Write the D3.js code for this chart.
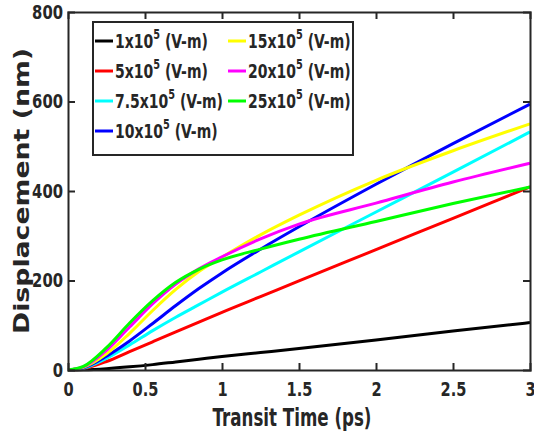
<!DOCTYPE html>
<html>
<head>
<meta charset="utf-8">
<script src="https://cdn.jsdelivr.net/npm/d3@7"></script>
<style>
  body { margin: 0; background: #fff; }
  text { font-family: "DejaVu Sans", sans-serif; font-weight: bold; fill: #262626; }
</style>
</head>
<body>
<div id="chart"></div>
<script>
// chart data
const times = [0, 0.1, 0.25, 0.4, 0.55, 0.7, 0.85, 1, 1.25, 1.5, 2, 2.5, 3];
const field1 = [0, 0.5, 3, 7, 12, 18, 24, 30, 39, 48, 67, 87, 106];
const field5 = [0, 3, 19, 41, 63, 85, 107, 129, 164, 199, 269, 339, 409];
const field75 = [0, 4, 26, 56, 88, 118, 146, 174, 219, 264, 353, 442, 532];
const field10 = [0, 5, 31, 65, 104, 144, 182, 217, 270, 320, 415, 506, 594];
const field15 = [0, 6, 36, 82, 133, 180, 220, 252, 302, 346, 424, 490, 550];
const field20 = [0, 7, 44, 96, 148, 192, 226, 253, 293, 326, 373, 420, 462];
const field25 = [0, 8, 50, 105, 155, 196, 225, 246, 270, 292, 332, 372, 409];

const seriesNames = ["1", "5", "7.5", "10", "15", "20", "25"];
const seriesColors = ["#000000", "#ff0000", "#00ffff", "#0000ff", "#ffff00", "#ff00ff", "#00ff00"];
const seriesValues = [field1, field5, field75, field10, field15, field20, field25];

const xTicks = [0, 0.5, 1, 1.5, 2, 2.5, 3];
const yTicks = [0, 200, 400, 600, 800];

// svg size and plot box
const width = 534;
const height = 440;
const margin = { left: 68, right: 4, top: 12, bottom: 70 };
const axisColor = "#262626";

const svg = d3.select("#chart")
    .append("svg")
    .attr("width", width)
    .attr("height", height);

const x = d3.scaleLinear().domain([0, 3]).range([margin.left, width - margin.right]);
const y = d3.scaleLinear().domain([0, 800]).range([height - margin.bottom, margin.top]);

// squeeze text to a measured width
function fitWidth(sel, ratio) {
    sel.each(function () {
        const w = this.getComputedTextLength();
        d3.select(this)
            .attr("textLength", w * ratio)
            .attr("lengthAdjust", "spacingAndGlyphs");
    });
}

// lines
const line = d3.line()
    .x((d, i) => x(times[i]))
    .y(d => y(d))
    .curve(d3.curveMonotoneX);

svg.append("g")
    .selectAll("path")
    .data(seriesValues)
    .enter().append("path")
    .attr("d", d => line(d))
    .attr("fill", "none")
    .attr("stroke", (d, i) => seriesColors[i])
    .attr("stroke-width", 3);

// axes, ticks pointing inward on all four sides
const tickLen = 7;
const bottomAxis = svg.append("g")
    .attr("transform", `translate(0,${y(0)})`)
    .call(d3.axisBottom(x).tickValues(xTicks).tickSize(-tickLen).tickPadding(12)
        .tickFormat(d3.format("")));
const topAxis = svg.append("g")
    .attr("transform", `translate(0,${y(800)})`)
    .call(d3.axisTop(x).tickValues(xTicks).tickSize(-tickLen).tickFormat(""));
const leftAxis = svg.append("g")
    .attr("transform", `translate(${x(0)},0)`)
    .call(d3.axisLeft(y).tickValues(yTicks).tickSize(-tickLen).tickPadding(5));
const rightAxis = svg.append("g")
    .attr("transform", `translate(${x(3)},0)`)
    .call(d3.axisRight(y).tickValues(yTicks).tickSize(-tickLen).tickFormat(""));

[bottomAxis, topAxis, leftAxis, rightAxis].forEach(g => {
    g.select(".domain").attr("stroke", axisColor).attr("stroke-width", 2);
    g.selectAll(".tick line").attr("stroke", axisColor).attr("stroke-width", 2);
    g.selectAll(".tick text")
        .attr("fill", axisColor)
        .style("font-size", "20px")
        .style("font-family", "'DejaVu Sans', sans-serif")
        .style("font-weight", "bold");
});
bottomAxis.selectAll(".tick line").filter(d => d === 0 || d === 3).remove();
topAxis.selectAll(".tick line").filter(d => d === 0 || d === 3).remove();
leftAxis.selectAll(".tick line").filter(d => d === 0 || d === 800).remove();
rightAxis.selectAll(".tick line").filter(d => d === 0 || d === 800).remove();

fitWidth(bottomAxis.selectAll(".tick text"), 0.73);
fitWidth(leftAxis.selectAll(".tick text"), 0.74);

// axis titles
svg.append("text")
    .attr("x", 292)
    .attr("y", 426)
    .attr("text-anchor", "middle")
    .attr("textLength", 159)
    .attr("lengthAdjust", "spacingAndGlyphs")
    .style("font-size", "24px")
    .text("Transit Time (ps)");

svg.append("text")
    .attr("transform", `translate(29,${(y(0) + y(800)) / 2}) rotate(-90)`)
    .attr("text-anchor", "middle")
    .attr("textLength", 286)
    .attr("lengthAdjust", "spacingAndGlyphs")
    .style("font-size", "21px")
    .text("Displacement (nm)");

// legend: two columns
const legend = svg.append("g");
legend.append("rect")
    .attr("x", 93)
    .attr("y", 22)
    .attr("width", 260)
    .attr("height", 133)
    .attr("fill", "#fff")
    .attr("stroke", axisColor)
    .attr("stroke-width", 2);

const rowY = [41, 71, 101, 131];
const colX = [95, 228];
const textRatio = 0.7;

seriesNames.forEach((name, i) => {
    const col = i < 4 ? 0 : 1;
    const row = i < 4 ? i : i - 4;
    const lx = colX[col];
    const ly = rowY[row];

    legend.append("line")
        .attr("x1", lx)
        .attr("x2", lx + 18)
        .attr("y1", ly)
        .attr("y2", ly)
        .attr("stroke", seriesColors[i])
        .attr("stroke-width", 3);

    const t = legend.append("text")
        .attr("transform", `translate(${lx + 20},${ly + 7}) scale(${textRatio},1)`)
        .style("font-size", "20px");
    t.append("tspan").text(name + "x10");
    t.append("tspan").attr("dy", -9).style("font-size", "14px").text("5");
    t.append("tspan").attr("dy", 9).text(" (V-m)");
});
</script>
</body>
</html>
